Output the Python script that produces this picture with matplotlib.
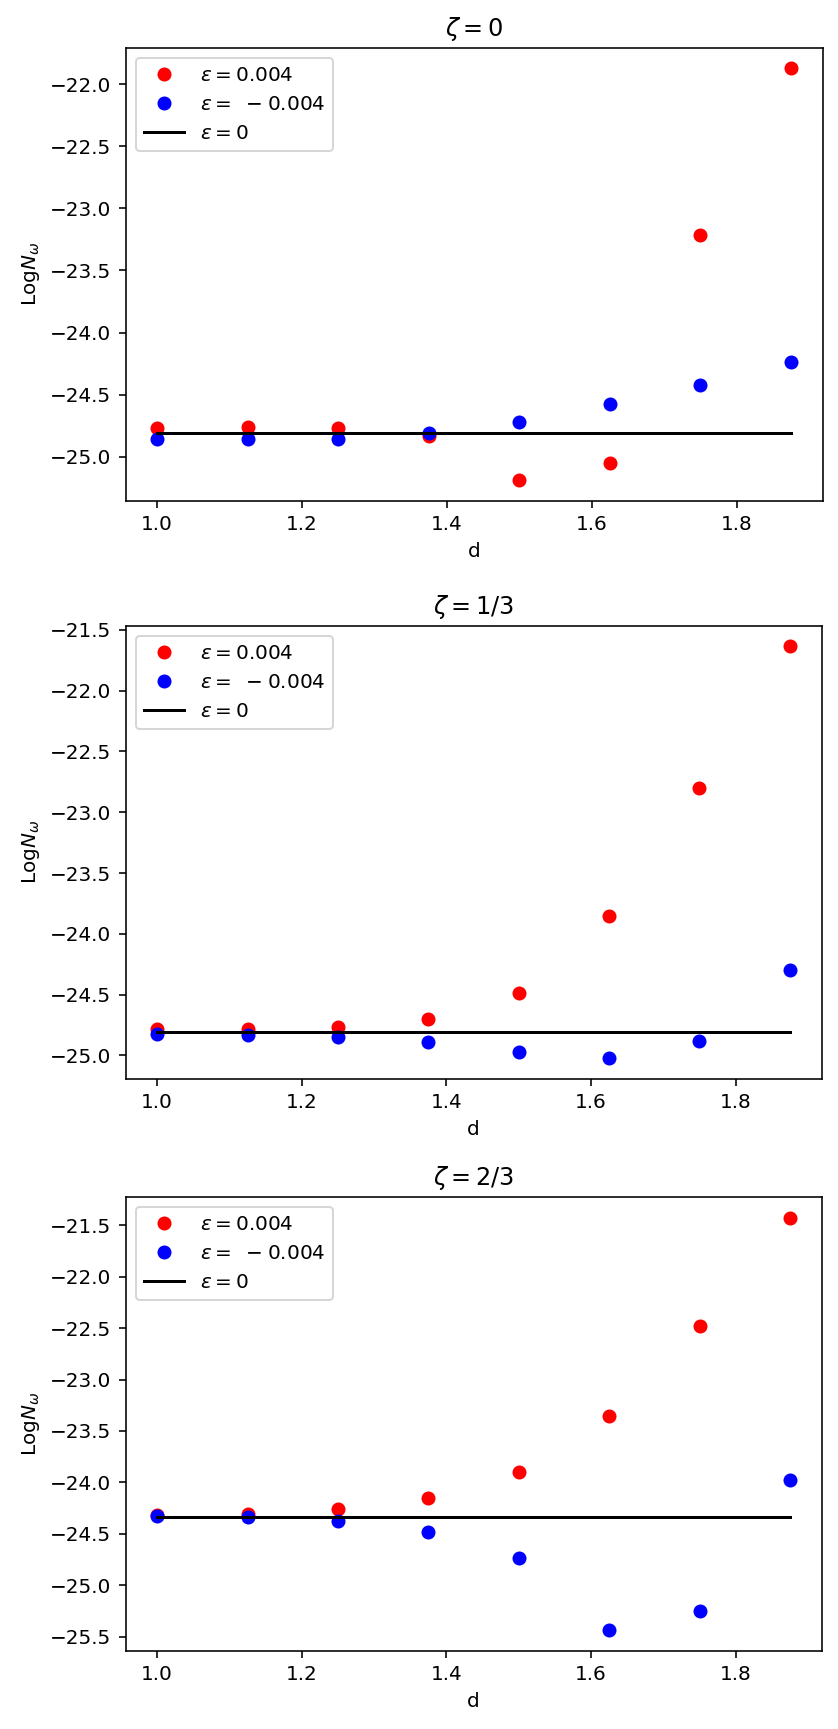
import numpy as np
import matplotlib
matplotlib.use("Agg")
from matplotlib import pyplot as plt

# d values shared by all panels
d = [1.0, 1.125, 1.25, 1.375, 1.5, 1.625, 1.75, 1.875]

titles = [r"$\zeta=0$", r"$\zeta=1/3$", r"$\zeta=2/3$"]

# eps = 0.004
pos_zeta0 = [-24.767, -24.759, -24.767, -24.834, -25.188, -25.05, -23.212, -21.873]
pos_zeta13 = [-24.785, -24.782, -24.763, -24.70, -24.487, -23.850, -22.797, -21.635]
pos_zeta23 = [-24.32, -24.305, -24.261, -24.152, -23.895, -23.358, -22.48, -21.428]

# eps = -0.004
neg_zeta0 = [-24.856, -24.861, -24.861, -24.807, -24.720, -24.575, -24.422, -24.236]
neg_zeta13 = [-24.826, -24.83, -24.846, -24.89, -24.973, -25.022, -24.882, -24.295]
neg_zeta23 = [-24.325, -24.341, -24.38, -24.483, -24.737, -25.436, -25.253, -23.98]

# eps = 0 reference level
zero_level = [-24.805, -24.809, -24.337]

pos_all = [pos_zeta0, pos_zeta13, pos_zeta23]
neg_all = [neg_zeta0, neg_zeta13, neg_zeta23]

fig = plt.figure(figsize=(838 / 144, 1729 / 144), dpi=144)

# Axes boxes in pixels (left, top, right, bottom)
W, H = 838, 1729
boxes = [
    (125.5, 47.7, 822.5, 500.7),
    (125.5, 625.7, 821.5, 1078.7),
    (125.5, 1197.3, 821.7, 1650.7),
]

for i in range(3):
    l, t, r, b = boxes[i]
    ax = fig.add_axes([l / W, 1 - b / H, (r - l) / W, (b - t) / H])

    ax.plot(d, pos_all[i], "o", color="red", label=r"$\epsilon=0.004$")
    ax.plot(d, neg_all[i], "o", color="blue", label=r"$\epsilon=\ \,{-}\;0.004$")
    ax.plot(d, [zero_level[i]] * len(d), color="black", label=r"$\epsilon=0$")

    ax.set_title(titles[i])
    ax.set_xlabel("d")
    ax.set_ylabel(r"Log$N_\omega$")
    ax.legend(loc="upper left")

plt.savefig("out.png", dpi=144)
plt.close()
